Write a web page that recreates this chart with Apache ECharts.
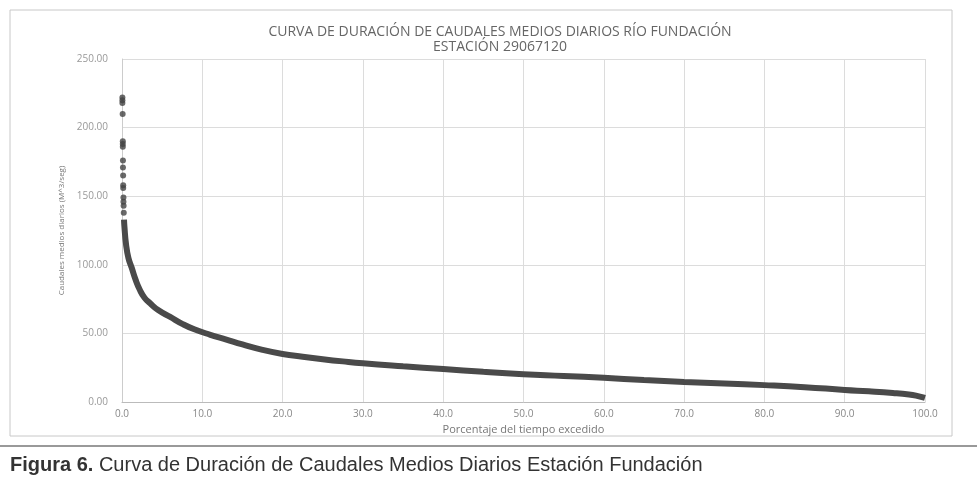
<!DOCTYPE html>
<html>
<head>
<meta charset="utf-8">
<script src="https://cdn.jsdelivr.net/npm/echarts@6/dist/echarts.min.js"></script>
<style>
  html, body { margin: 0; padding: 0; background: #fff; }
  #main { width: 977px; height: 482px; }
</style>
</head>
<body>
<div id="main"></div>
<script>
// puntos sueltos de caudales máximos (cerca de 0 %)
var picosPct = [0.05, 0.05, 0.05, 0.08, 0.1, 0.1, 0.1, 0.12, 0.12, 0.14, 0.15, 0.15, 0.18, 0.18, 0.2, 0.22];
var picosQ = [222, 220, 218, 210, 190, 188, 186, 176, 171, 165, 158, 156, 149, 146, 143, 138];

// curva de duración
var curvaPct = [0.25, 0.3, 0.5, 0.8, 1.2, 1.7, 2.2, 2.8, 3.5, 4.5, 6, 7.5, 9, 11, 13, 15, 17.5, 20, 22.5, 25, 27.5, 30,
    35, 40, 45, 50, 55, 60, 65, 70, 75, 80, 85, 90, 93, 96, 98, 99, 100];
var curvaQ = [133, 128, 115, 105, 98, 89, 82, 76, 72, 67, 62, 57, 53, 49, 45.5, 42, 38, 35, 33, 31.2, 29.6, 28.2,
    26, 24, 22, 20.3, 19, 17.6, 16, 14.6, 13.5, 12.3, 10.8, 8.8, 7.8, 6.6, 5.5, 4.5, 3];

var xTicks = ['0.0', '10.0', '20.0', '30.0', '40.0', '50.0', '60.0', '70.0', '80.0', '90.0', '100.0'];

var picos = picosPct.map(function (p, i) { return [p, picosQ[i]]; });
var curva = curvaPct.map(function (p, i) { return [p, curvaQ[i]]; });

var myChart = echarts.init(document.getElementById('main'));

var option = {
    backgroundColor: '#fff',
    animation: false,
    title: {
        text: 'CURVA DE DURACIÓN DE CAUDALES MEDIOS DIARIOS RÍO FUNDACIÓN\nESTACIÓN 29067120',
        left: 495,
        top: 20,
        textAlign: 'center',
        textStyle: {
            fontFamily: 'Open Sans',
            fontSize: 14,
            fontWeight: 'normal',
            color: '#666',
            lineHeight: 15
        }
    },
    grid: { left: 122, right: 52, top: 59, bottom: 80 },
    xAxis: {
        type: 'value',
        min: 0,
        max: 100,
        interval: 10,
        name: 'Porcentaje del tiempo excedido',
        nameLocation: 'middle',
        nameGap: 20,
        nameTextStyle: { fontFamily: 'Open Sans', fontSize: 11, color: '#777' },
        axisLine: { lineStyle: { color: '#bbb' } },
        axisTick: { show: false },
        axisLabel: {
            fontFamily: 'Open Sans', fontSize: 10, color: '#888', margin: 7,
            formatter: function (v) { return xTicks[v / 10]; }
        },
        splitLine: { lineStyle: { color: '#dcdcdc' } }
    },
    yAxis: {
        type: 'value',
        min: 0,
        max: 250,
        interval: 50,
        name: 'Caudales medios diarios (M^3/seg)',
        nameLocation: 'middle',
        nameGap: 55,
        nameTextStyle: { fontFamily: 'Open Sans', fontSize: 8, color: '#777' },
        axisLine: { show: true, lineStyle: { color: '#ccc' } },
        axisTick: { show: false },
        axisLabel: {
            fontFamily: 'Open Sans', fontSize: 10, color: '#999', margin: 14,
            formatter: function (v) { return v.toFixed(2); }
        },
        splitLine: { lineStyle: { color: '#dcdcdc' } }
    },
    series: [
        {
            type: 'line',
            data: curva,
            smooth: true,
            showSymbol: false,
            lineStyle: { color: '#4a4a4a', width: 6 },
            z: 3
        },
        {
            type: 'scatter',
            data: picos,
            symbolSize: 6,
            itemStyle: { color: '#444' },
            z: 4
        }
    ],
    graphic: [
        {
            type: 'rect',
            shape: { x: 10, y: 10, width: 942, height: 426 },
            style: { fill: null, stroke: '#c8c8c8', lineWidth: 1 }
        },
        {
            type: 'line',
            shape: { x1: 0, y1: 446, x2: 977, y2: 446 },
            style: { stroke: '#777', lineWidth: 1.5 }
        },
        {
            type: 'text',
            left: 10,
            top: 455,
            style: {
                text: '{b|Figura 6.} Curva de Duración de Caudales Medios Diarios Estación Fundación',
                fontFamily: 'Liberation Sans',
                fontSize: 20,
                fill: '#333',
                rich: {
                    b: { fontFamily: 'Liberation Sans', fontSize: 20, fontWeight: 'bold', fill: '#333' }
                }
            }
        }
    ]
};

myChart.setOption(option);
</script>
</body>
</html>
